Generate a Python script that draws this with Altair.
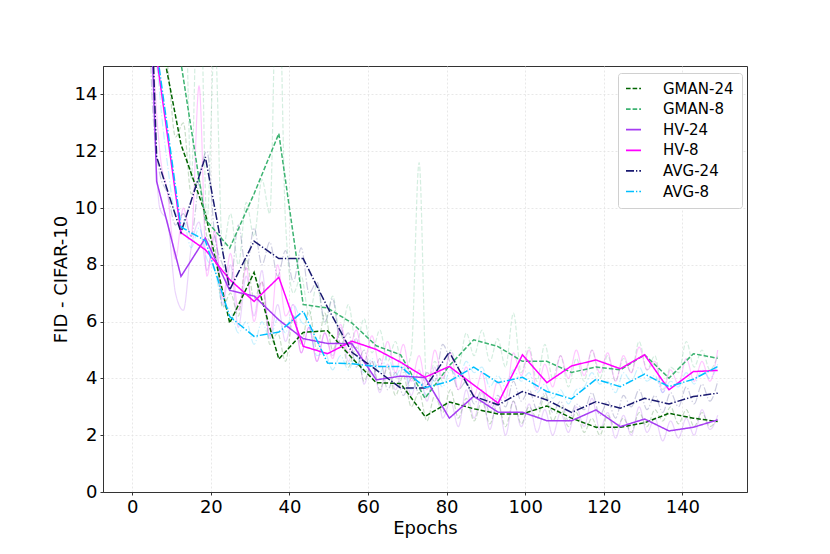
import altair as alt
import pandas as pd

# ---- smoothed (sampled) curves ----
epochs = [0, 6.2, 12.4, 18.6, 24.8, 31.0, 37.3, 43.5, 49.7, 55.9, 62.1, 68.3,
          74.5, 80.7, 86.9, 93.1, 99.3, 105.5, 111.8, 118.0, 124.2, 130.4,
          136.6, 142.8, 149.0]

gman24 = [36, 16.7, 12.24, 9.8, 5.95, 7.73, 4.68, 5.62, 5.68, 4.72, 3.85, 3.82,
          2.66, 3.17, 2.93, 2.75, 2.75, 3.03, 2.6, 2.28, 2.28, 2.44, 2.77, 2.6, 2.48]
gman8 = [40, 22, 15.1, 9.6, 8.59, 10.5, 12.62, 6.6, 6.48, 5.95, 5.15, 4.83,
         3.3, 4.45, 5.36, 5.12, 4.6, 4.6, 4.21, 4.4, 4.3, 4.83, 4.01, 4.87, 4.71]
hv24 = [37, 10.94, 7.59, 8.94, 7.1, 6.9, 6.06, 5.4, 5.23, 5.22, 3.95, 4.08,
        4.03, 2.6, 3.37, 2.81, 2.81, 2.51, 2.51, 2.89, 2.3, 2.57, 2.15, 2.28, 2.54]
hv8 = [36, 15.3, 9.13, 8.53, 7.48, 6.71, 7.56, 5.13, 4.87, 5.31, 5.02, 4.57,
       4.04, 4.42, 3.77, 3.13, 4.83, 3.85, 4.44, 4.65, 4.34, 4.83, 3.6, 4.24, 4.28]
avg24 = [37, 11.8, 9.14, 11.8, 7.12, 8.83, 8.22, 8.22, 6.5, 4.92, 4.3, 3.66,
         3.66, 4.93, 3.37, 3.07, 3.54, 3.24, 2.8, 3.18, 2.95, 3.3, 3.1, 3.36, 3.48]
avg8 = [36, 15.6, 9.33, 8.85, 6.18, 5.48, 5.63, 6.37, 4.54, 4.52, 4.42, 4.42,
        3.67, 3.9, 4.4, 3.85, 4.04, 3.54, 3.28, 3.97, 3.71, 4.15, 3.71, 3.97, 4.42]

# ---- faint raw curves (every 2 epochs, 3..149) ----
raw_epochs = [3, 5, 7, 9, 11, 13, 15, 17, 19, 21, 23, 25, 27, 29, 31, 33, 35, 37,
              39, 41, 43, 45, 47, 49, 51, 53, 55, 57, 59, 61, 63, 65, 67, 69, 71,
              73, 75, 77, 79, 81, 83, 85, 87, 89, 91, 93, 95, 97, 99, 101, 103,
              105, 107, 109, 111, 113, 115, 117, 119, 121, 123, 125, 127, 129,
              131, 133, 135, 137, 139, 141, 143, 145, 147, 149]

raw_gman24 = [28, 20, 16, 15, 12.5, 13, 10.5, 11, 9.0, 8.6, 6.5, 7.0, 6.2, 8.2,
              6.8, 7.4, 5.2, 5.6, 4.6, 6.2, 5.2, 6.4, 5.0, 6.3, 5.0, 5.6, 4.4,
              5.1, 3.9, 4.6, 3.6, 4.4, 3.4, 4.1, 3.0, 3.5, 2.5, 3.4, 2.8, 3.6,
              2.6, 3.3, 2.5, 3.2, 2.4, 3.1, 2.3, 3.2, 2.4, 3.0, 2.6, 3.4, 2.5,
              3.0, 2.3, 2.8, 2.1, 2.6, 2.0, 2.7, 2.2, 2.6, 2.1, 2.8, 2.3, 2.9,
              2.5, 3.0, 2.4, 2.9, 2.3, 2.8, 2.3, 2.6]
raw_gman8 = [30, 22, 19, 17, 15.5, 20, 11, 20, 9.5, 16, 8.5, 9.8, 8.0, 10.2,
             9.0, 11.0, 9.8, 20, 9.5, 7.0, 7.6, 6.2, 7.3, 5.9, 6.9, 5.5, 6.6,
             5.2, 6.1, 4.9, 5.7, 4.6, 5.3, 4.2, 4.9, 11.6, 3.6, 4.6, 3.9, 5.0,
             4.4, 5.6, 4.8, 5.7, 4.6, 5.4, 4.4, 6.3, 4.2, 5.1, 3.9, 5.2, 4.0,
             4.8, 3.7, 4.7, 3.9, 5.0, 4.0, 4.8, 3.9, 4.7, 4.2, 5.3, 4.3, 4.8,
             3.6, 4.4, 4.2, 5.3, 4.4, 5.0, 4.3, 4.8]
raw_hv24 = [30, 16, 10, 9.5, 7.0, 6.4, 8.6, 9.5, 7.8, 9.0, 6.6, 8.0, 5.8, 7.6,
            6.2, 7.8, 5.4, 6.6, 5.3, 6.2, 4.9, 5.8, 4.6, 5.6, 4.8, 5.8, 4.6,
            5.4, 3.8, 4.6, 3.5, 4.5, 3.6, 4.4, 3.4, 4.3, 3.2, 4.4, 2.6, 3.2,
            2.3, 3.6, 2.6, 3.5, 2.2, 3.3, 2.0, 3.2, 2.3, 3.1, 2.1, 2.9, 2.0,
            2.8, 2.1, 3.0, 2.3, 3.3, 2.2, 2.8, 1.9, 2.7, 2.0, 3.0, 2.1, 2.6,
            1.8, 2.5, 1.9, 2.6, 2.0, 2.9, 2.2, 2.7]
raw_hv8 = [30, 17, 12, 10.5, 8.2, 10.0, 9.0, 14.3, 7.6, 9.2, 6.8, 8.4, 6.4, 7.9,
           6.0, 7.4, 5.5, 8.0, 6.2, 6.6, 4.9, 5.8, 4.6, 5.6, 4.7, 5.9, 4.9,
           5.7, 4.6, 5.5, 4.4, 5.3, 4.2, 5.2, 3.9, 4.8, 3.6, 5.0, 4.0, 4.9,
           3.6, 4.4, 3.4, 4.2, 3.0, 3.9, 3.3, 4.9, 4.1, 5.0, 3.6, 4.5, 3.7,
           4.8, 4.0, 5.0, 4.1, 5.0, 4.2, 4.9, 3.9, 4.8, 4.2, 5.1, 4.3, 4.6,
           3.5, 4.3, 3.8, 4.7, 3.9, 4.6, 3.9, 5.0]
raw_avg24 = [30, 14, 11.2, 10.5, 9.4, 9.8, 9.0, 11.0, 12.0, 9.0, 8.0, 7.4, 9.4,
             7.8, 9.3, 8.0, 8.8, 7.6, 8.5, 7.4, 8.6, 7.0, 7.4, 6.0, 6.8, 5.2,
             5.6, 4.4, 5.0, 4.0, 4.7, 3.6, 4.2, 3.4, 4.0, 3.5, 4.2, 3.9, 5.2,
             4.5, 3.6, 3.9, 3.1, 3.6, 2.8, 3.4, 3.0, 3.9, 3.2, 3.6, 2.9, 3.5,
             2.8, 3.2, 2.5, 3.1, 2.9, 3.5, 2.7, 3.2, 2.6, 3.4, 3.0, 3.6, 2.9,
             3.4, 2.8, 3.5, 3.0, 3.7, 3.1, 3.8, 3.2, 3.9]
raw_avg8 = [30, 18, 14, 11.5, 9.8, 9.6, 8.6, 9.3, 8.2, 7.8, 6.6, 6.4, 5.6, 6.0,
            5.2, 6.0, 5.4, 6.1, 5.6, 6.6, 6.0, 5.8, 4.8, 4.9, 4.3, 4.8, 4.3,
            4.8, 4.2, 4.7, 4.2, 4.8, 4.1, 4.5, 3.6, 3.9, 3.4, 4.0, 3.7, 4.3,
            4.0, 4.6, 4.2, 4.4, 3.7, 4.1, 3.7, 4.3, 3.9, 4.2, 3.5, 3.8, 3.3,
            3.6, 3.1, 3.6, 3.7, 4.2, 3.8, 3.9, 3.5, 4.2, 3.9, 4.4, 3.9, 4.1,
            3.5, 3.9, 3.7, 4.2, 3.8, 4.3, 4.0, 4.5]

names = ["GMAN-24", "GMAN-8", "HV-24", "HV-8", "AVG-24", "AVG-8"]
series = [gman24, gman8, hv24, hv8, avg24, avg8]
raw_series = [raw_gman24, raw_gman8, raw_hv24, raw_hv8, raw_avg24, raw_avg8]
colors = ["#006400", "#3cb371", "#a63cf2", "#ff00ff", "#191970", "#00bfff"]
dashes = [[4.6, 2], [4.6, 2], [1, 0], [1, 0], [8, 2, 1.3, 2], [8, 2, 1.3, 2]]

x_ticks = [0, 20, 40, 60, 80, 100, 120, 140]
y_ticks = [0, 2, 4, 6, 8, 10, 12, 14]

for r in raw_series:
    assert len(r) == len(raw_epochs), len(r)
for s in series:
    assert len(s) == len(epochs)

rows = []
for order, (name, vals) in enumerate(zip(names, series)):
    for e, v in zip(epochs, vals):
        rows.append({"series": name, "epoch": e, "fid": v, "order": order})
df = pd.DataFrame(rows)

raw_rows = []
for order, (name, vals) in enumerate(zip(names, raw_series)):
    for e, v in zip(raw_epochs, vals):
        raw_rows.append({"series": name, "epoch": e, "fid": v, "order": order})
raw_df = pd.DataFrame(raw_rows)

font = "DejaVu Sans"

x_enc = alt.X("epoch:Q",
              scale=alt.Scale(domain=[-7.45, 156.45], nice=False, zero=False),
              axis=alt.Axis(values=x_ticks, title="Epochs", titlePadding=3))
y_enc = alt.Y("fid:Q",
              scale=alt.Scale(domain=[0, 15], nice=False),
              axis=alt.Axis(values=y_ticks, title="FID - CIFAR-10", titlePadding=4))

faint = alt.Chart(raw_df).mark_line(strokeWidth=1.2, opacity=0.22, clip=True,
                                    interpolate="monotone").encode(
    x=x_enc,
    y=y_enc,
    color=alt.Color("series:N", scale=alt.Scale(domain=names, range=colors), legend=None),
    strokeDash=alt.StrokeDash("series:N", scale=alt.Scale(domain=names, range=dashes),
                              legend=None),
    order="order:Q",
    detail="series:N",
)

lines = alt.Chart(df).mark_line(strokeWidth=1.5, clip=True).encode(
    x=x_enc,
    y=y_enc,
    color=alt.Color("series:N",
                    scale=alt.Scale(domain=names, range=colors),
                    legend=alt.Legend(title=None, orient="none", legendX=515, legendY=7,
                                      symbolType="M-1.5,0L1.5,0", symbolSize=100,
                                      symbolStrokeWidth=1.7, labelOffset=22,
                                      labelFont=font, labelFontSize=15,
                                      rowPadding=4.6, padding=8,
                                      fillColor="white", strokeColor="#d0d0d0",
                                      cornerRadius=3)),
    strokeDash=alt.StrokeDash("series:N",
                              scale=alt.Scale(domain=names, range=dashes),
                              legend=alt.Legend(title=None)),
    order="order:Q",
    detail="series:N",
)

chart = alt.layer(faint, lines).resolve_scale(
    color="independent", strokeDash="independent"
).properties(
    width=644, height=426,
    padding={"left": 95, "top": 58, "right": 75, "bottom": 54},
    autosize=alt.AutoSizeParams(type="none"),
    background="white",
).configure_view(
    stroke="#333333", strokeWidth=1
).configure_axis(
    labelFont=font, labelFontSize=18, labelColor="black",
    titleFont=font, titleFontSize=18, titleFontWeight="normal", titleColor="black",
    tickSize=3, tickColor="#333333", labelPadding=3,
    domain=True, domainColor="#333333", domainWidth=1,
    grid=True, gridColor="#e2e2e2", gridDash=[2, 2], gridWidth=0.8,
)

chart.save("out.html", embed_options={"renderer": "svg", "actions": False})
